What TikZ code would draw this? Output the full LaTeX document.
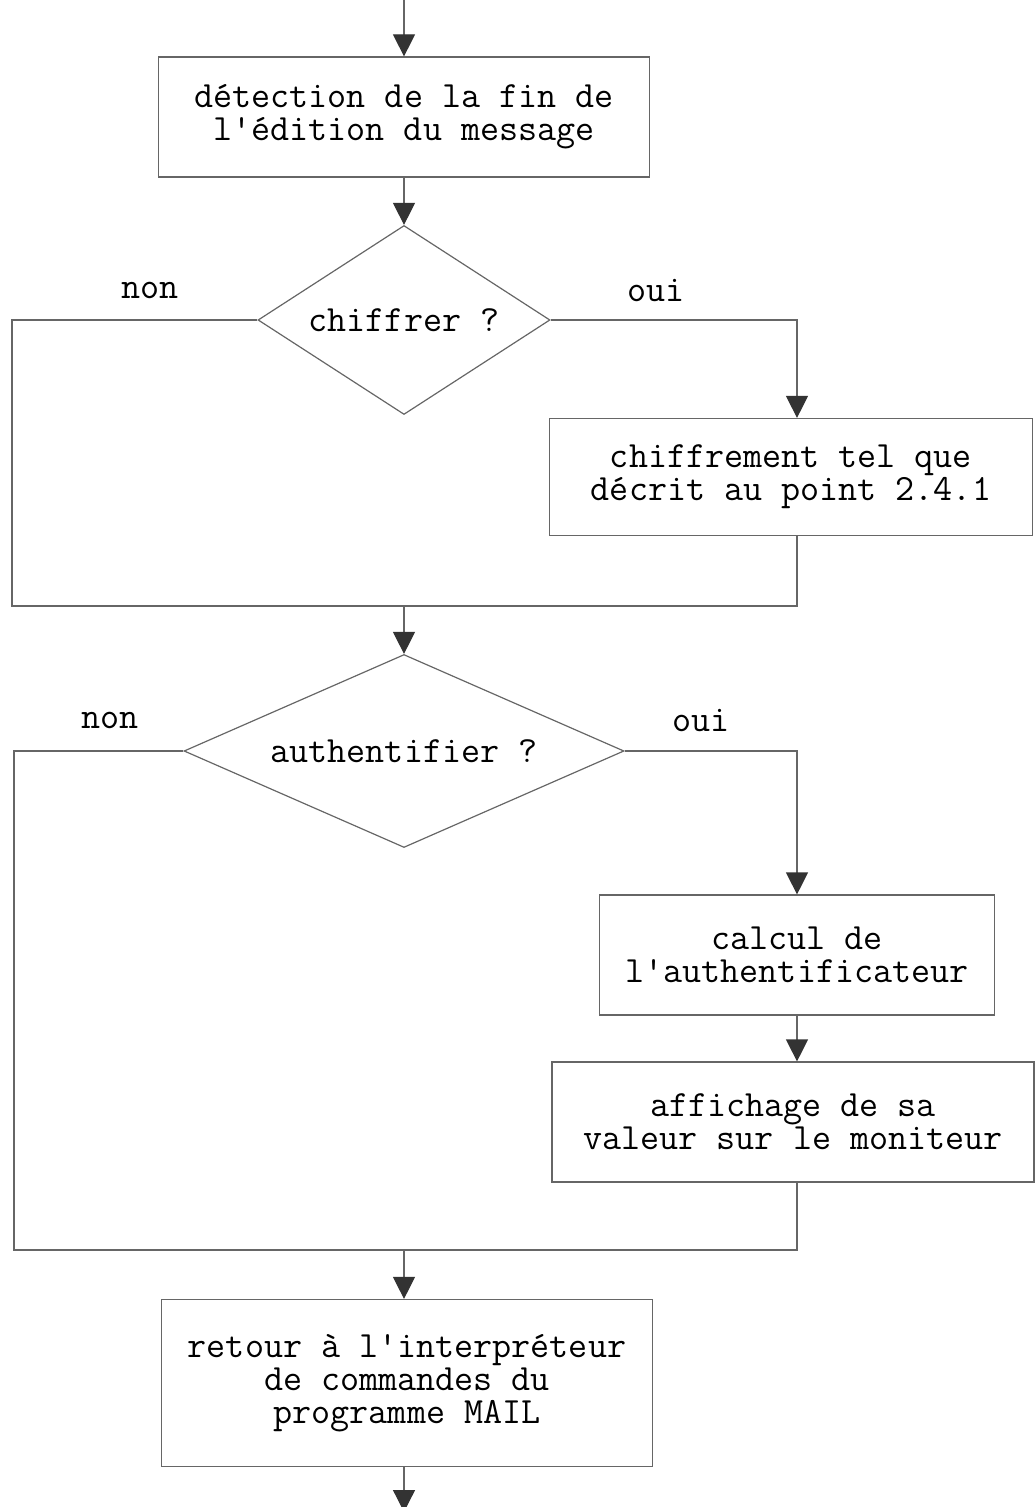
\documentclass[tikz,border=0pt]{standalone}
\usetikzlibrary{shapes.geometric,arrows.meta}
\begin{document}
\begin{tikzpicture}[x=0.5pt,y=-0.5pt,
  txt/.style={font=\fontsize{18.5}{16.5}\selectfont\ttfamily, text=black},
  blk/.style={draw=black!60, line width=0.6pt, txt, align=center, inner sep=0pt},
  dec/.style={diamond, draw=black!60, line width=0.6pt, txt, inner sep=0pt},
  flow/.style={draw=black!60, line width=0.6pt},
  arr/.style={flow, -{Triangle[width=11pt,length=11pt,color=black!80]}}]
\useasboundingbox (0,0) rectangle (1034,1507);
\node[blk, minimum width=245.5pt, minimum height=60pt] (box1) at (404,117){détection de la fin de\\l'édition du message};
\node[dec, shape aspect=1.55, minimum width=146pt, minimum height=94.5pt] (dec1) at (404,320){chiffrer ?};
\node[blk, minimum width=241.5pt, minimum height=58.5pt] (box2) at (791,477){chiffrement tel que\\décrit au point 2.4.1};
\node[dec, shape aspect=2.3, minimum width=220pt, minimum height=96.5pt] (dec2) at (404,751){authentifier ?};
\node[blk, minimum width=197.5pt, minimum height=60pt] (box3) at (797,955){calcul de\\l'authentificateur};
\node[blk, minimum width=241pt, minimum height=60pt] (box4) at (793,1122){affichage de sa\\valeur sur le moniteur};
\node[blk, minimum width=245.5pt, minimum height=83.5pt] (box5) at (407,1383){retour à l'interpréteur\\de commandes du\\programme MAIL};
\node[txt] (non1) at (150,290){non};
\node[txt] (oui1) at (656,290){oui};
\node[txt] (non2) at (110,720){non};
\node[txt] (oui2) at (701,720){oui};
\coordinate (top) at (404,0);
\coordinate (l1) at (12,320);
\coordinate (j1) at (797,606);
\coordinate (m1) at (404,606);
\coordinate (l2) at (14,751);
\coordinate (j2) at (797,1250);
\coordinate (m2) at (404,1250);
\coordinate (bot) at (404,1512);
\draw[arr](top) -- (box1.north -| top);
\draw[arr](box1.south -| top) -- (dec1.north);
\draw[flow](dec1.west) -- (l1) |- (j1) -- (j1 |- box2.south);
\draw[arr](dec1.east) -| (j1 |- box2.north);
\draw[arr](m1) -- (dec2.north);
\draw[flow](dec2.west) -- (l2) |- (j2) -- (j2 |- box4.south);
\draw[arr](dec2.east) -| (box3.north);
\draw[arr](box3.south) -- (box3.south |- box4.north);
\draw[arr](m2) -- (m2 |- box5.north);
\draw[arr](m2 |- box5.south) -- (bot);

\end{tikzpicture}
\end{document}
